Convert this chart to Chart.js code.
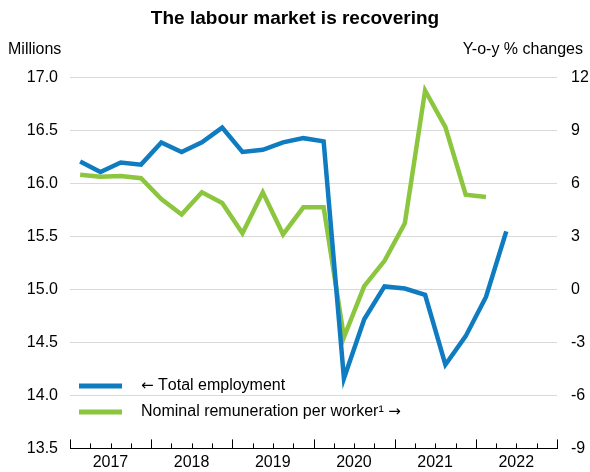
<!DOCTYPE html>
<html>
<head>
<meta charset="utf-8">
<script src="https://cdn.jsdelivr.net/npm/chart.js@4.4.1/dist/chart.umd.min.js"></script>
<style>
  body { margin: 0; background: #fff; }
  #wrap { width: 590px; height: 472px; }
</style>
</head>
<body>
<div id="wrap"><canvas id="labourChart"></canvas></div>
<script>
// quarters 2017Q1 .. 2022Q4
const years = ['2017', '2018', '2019', '2020', '2021', '2022'];
const quarters = [];
years.forEach(y => { for (let q = 1; q <= 4; q++) quarters.push(y + 'Q' + q); });

// millions, left axis
const totalEmployment = [
    16.21, 16.11, 16.20, 16.18,
    16.39, 16.30, 16.39, 16.53,
    16.30, 16.32, 16.39, 16.43,
    16.40, 14.16, 14.72, 15.03,
    15.01, 14.95, 14.29, 14.56,
    14.93, 15.55, null, null
];

// y-o-y % changes, right axis
const remunerationPerWorker = [
    6.50, 6.40, 6.44, 6.31,
    5.13, 4.25, 5.51, 4.91,
    3.19, 5.51, 3.13, 4.66,
    4.66, -2.70, 0.19, 1.63,
    3.75, 11.28, 9.21, 5.38,
    5.25, null, null, null
];

const FONT = "'Liberation Sans', Arial, sans-serif";
const ARROW_FONT = "'DejaVu Sans', sans-serif";
const BLUE = '#0f7cc1';
const GREEN = '#8cc63f';

// draws text, with the arrows taken from a font that has long ones
function drawMixed(ctx, text, x, y) {
    for (const ch of text) {
        const isArrow = ch === '\u2190' || ch === '\u2192';
        ctx.font = isArrow ? '15px ' + ARROW_FONT : '16px ' + FONT;
        ctx.fillText(ch, x, y);
        x += ctx.measureText(ch).width;
    }
}

// axis titles, quarter ticks pointing up and the legend in the plot
const extrasPlugin = {
    id: 'extras',
    afterDraw(chart) {
        const ctx = chart.ctx;
        const area = chart.chartArea;
        const x = chart.scales.x;
        ctx.save();

        ctx.fillStyle = '#000';
        ctx.font = '16px ' + FONT;
        ctx.textBaseline = 'middle';
        ctx.textAlign = 'left';
        ctx.fillText('Millions', 8, 50);
        ctx.textAlign = 'right';
        ctx.fillText('Y-o-y % changes', 583, 50);

        ctx.strokeStyle = '#000';
        ctx.lineWidth = 1;
        for (let k = 0; k <= quarters.length; k++) {
            const px = Math.round(x.getPixelForValue(k - 0.5)) + 0.5;
            const len = (k % 4 === 0) ? 9 : 5;
            ctx.beginPath();
            ctx.moveTo(px, area.bottom);
            ctx.lineTo(px, area.bottom - len);
            ctx.stroke();
        }

        // legend
        ctx.textAlign = 'left';
        chart.data.datasets.forEach((ds, i) => {
            const ly = 386 + i * 26;
            ctx.strokeStyle = ds.borderColor;
            ctx.lineWidth = 5;
            ctx.beginPath();
            ctx.moveTo(79, ly);
            ctx.lineTo(122, ly);
            ctx.stroke();
            ctx.fillStyle = '#000';
            drawMixed(ctx, ds.label, 141, ly);
        });
        ctx.restore();
    }
};

const ctx = document.getElementById('labourChart').getContext('2d');
new Chart(ctx, {
    type: 'line',
    data: {
        labels: quarters,
        datasets: [
            {
                label: '\u2190 Total employment',
                data: totalEmployment,
                borderColor: BLUE,
                borderWidth: 4.5,
                pointRadius: 0,
                tension: 0,
                yAxisID: 'y'
            },
            {
                label: 'Nominal remuneration per worker\u00b9 \u2192',
                data: remunerationPerWorker,
                borderColor: GREEN,
                borderWidth: 4.5,
                pointRadius: 0,
                tension: 0,
                yAxisID: 'y1'
            }
        ]
    },
    options: {
        responsive: true,
        maintainAspectRatio: false,
        animation: false,
        layout: { padding: { left: 0, right: 0, top: 0, bottom: -9 } },
        plugins: {
            legend: { display: false },
            tooltip: { enabled: false },
            title: {
                display: true,
                text: 'The labour market is recovering',
                color: '#000',
                font: { family: FONT, size: 19, weight: 'bold' },
                padding: { top: 7, bottom: 48 }
            }
        },
        scales: {
            x: {
                type: 'category',
                offset: true,
                grid: { display: false, drawTicks: false },
                border: { display: true, color: '#000', width: 1 },
                ticks: {
                    autoSkip: false,
                    maxRotation: 0,
                    color: '#000',
                    padding: 5,
                    labelOffset: 10,
                    font: { family: FONT, size: 16 },
                    callback: (v, i) => (i % 4 === 1 ? quarters[i].slice(0, 4) : '')
                }
            },
            y: {
                position: 'left',
                min: 13.5,
                max: 17,
                ticks: {
                    stepSize: 0.5,
                    color: '#000',
                    padding: 12,
                    font: { family: FONT, size: 16 },
                    callback: v => v.toFixed(1)
                },
                grid: {
                    drawTicks: false,
                    color: c => (c.tick && c.tick.value === 13.5 ? 'rgba(0,0,0,0)' : '#d9d9d9'),
                    lineWidth: 1
                },
                border: { display: false },
                afterFit(scale) { scale.width = 70; }
            },
            y1: {
                position: 'right',
                min: -9,
                max: 12,
                ticks: {
                    stepSize: 3,
                    color: '#000',
                    padding: 14,
                    font: { family: FONT, size: 16 }
                },
                grid: { display: false, drawTicks: false },
                border: { display: false },
                afterFit(scale) { scale.width = 33; }
            }
        }
    },
    plugins: [extrasPlugin]
});
</script>
</body>
</html>
